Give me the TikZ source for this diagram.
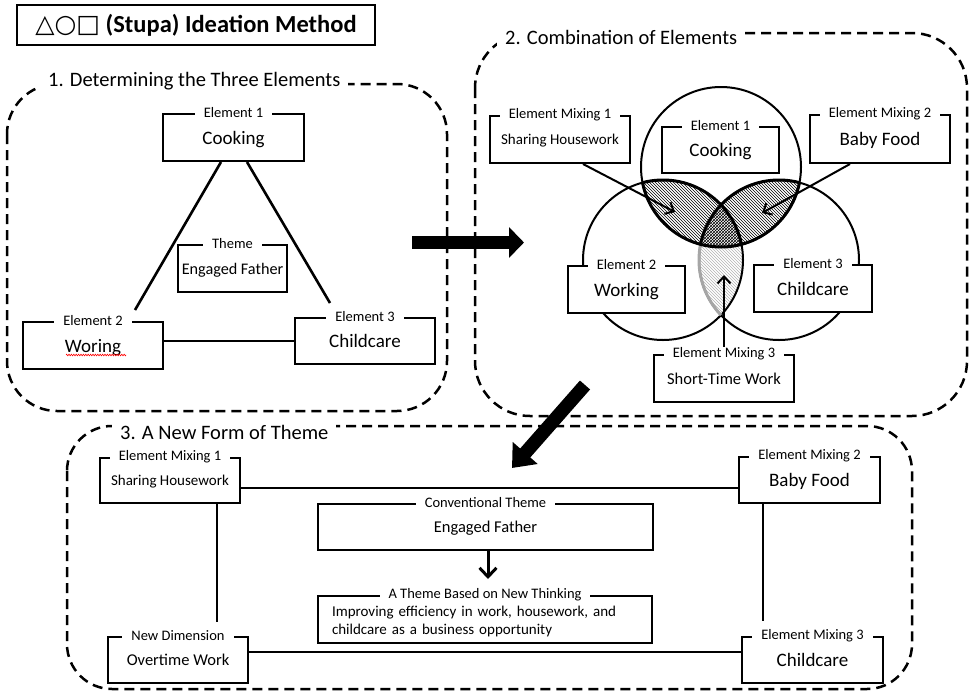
\documentclass[tikz,border=0pt]{standalone}
\usepackage{fontspec}
\setmainfont{Carlito}
\newfontfamily\symfont{DejaVu Sans}
\usetikzlibrary{arrows.meta,patterns,calc,decorations.pathmorphing}
\newcommand{\fsz}[1]{\fontsize{#1}{#1}\selectfont}
\newcommand{\mybox}[8]{%
  \node[box, minimum width=#4pt, minimum height=#5pt, font=\fsz{#6}] (#1) at (#2,#3) {#7};
  \node[lbl] (#1l) at (#1.north) {#8};}
\begin{document}
\begin{tikzpicture}[x=1pt,y=-1pt,
  box/.style={draw, line width=2pt, fill=white, inner sep=0pt, align=center, text depth=0pt},
  lbl/.style={fill=white, inner xsep=9pt, inner ysep=1pt, font=\fsz{14.5}},
  conn/.style={line width=2.6pt},
  panel/.style={draw, line width=2.5pt, dash pattern=on 10pt off 6pt},
  headtxt/.style={fill=white, inner ysep=2pt, inner xsep=8pt, font=\fsz{20.5}, anchor=west},
  bigarrow/.style={line width=13.5pt, -{Triangle[length=15pt,width=30pt]}},
  thinarrow/.style={line width=2pt, -{Straight Barb[length=7pt,width=13pt]}},
]
\useasboundingbox (0,0) rectangle (975,694);

% ---------- title ----------
\node[draw, line width=2.5pt, minimum width=358pt, minimum height=40pt, inner sep=0pt] (title) at (196,25)
  {\fsz{25}{\symfont △○□} \fsz{24.5}\textbf{(Stupa) Ideation Method}};

% ---------- panels ----------
\draw[panel, rounded corners=50pt] (7,84) rectangle (447,411);
\draw[panel, rounded corners=55pt] (475,33) rectangle (967,416);
\draw[panel, rounded corners=45pt] (67,426) rectangle (912,689);
\node[headtxt] (h1) at (40,81) {1. Determining the Three Elements\hspace{28pt}};
\node[headtxt] (h2) at (497,37) {2. Combination of Elements\hspace{6pt}};
\node[headtxt] (h3) at (112,432) {3. A New Form of Theme};

% ---------- panel 1 ----------
\coordinate (p1a) at (135,310);
\coordinate (p1b) at (330,303);
\mybox{p1e1}{233.5}{137.5}{141}{47}{19}{Cooking}{Element 1}
\mybox{p1th}{232.5}{268.5}{109}{47}{16.2}{Engaged Father}{Theme}
\mybox{p1e2}{93}{345.5}{140}{47}{19}{Woring}{Element 2}
\mybox{p1e3}{365}{341}{140}{46}{19}{Childcare}{Element 3}
\draw[conn] ([xshift=-12.5pt]p1e1.south) -- (p1a);
\draw[conn] ([xshift=13.5pt]p1e1.south) -- (p1b);
\draw[conn] (p1e3.west -| p1e2.east) -- (p1e3.west);
\draw[red, line width=0.6pt, decorate, decoration={zigzag, segment length=2.4pt, amplitude=0.8pt}] (66,355) -- (126,355);

% ---------- panel 2 : circles ----------
\coordinate (cT) at (721,167);
\coordinate (cL) at (663,260);
\coordinate (cR) at (779,260);
\begin{scope}
  \clip (cL) circle (80);
  \fill[pattern=north west lines, pattern color=gray!60] (cR) circle (80);
\end{scope}
\begin{scope}
  \clip (cT) circle (80);
  \fill[white] (cL) circle (80);
  \fill[pattern=north west lines] (cL) circle (80);
  \fill[white] (cR) circle (80);
  \fill[pattern=north west lines] (cR) circle (80);
  \clip (cL) circle (80);
  \fill[white] (cR) circle (80);
  \fill[pattern=crosshatch] (cR) circle (80);
\end{scope}
\draw[line width=2pt] (cT) circle (80) (cL) circle (80) (cR) circle (80);
\begin{scope}
  \clip (cL) circle (80);
  \draw[gray!70, line width=3pt] (cR) circle (80);
\end{scope}
\begin{scope}
  \clip (cT) circle (80);
  \draw[line width=3pt] (cL) circle (80) (cR) circle (80);
\end{scope}
\begin{scope}
  \clip (cL) circle (80) (cR) circle (80);
  \draw[line width=3pt] (cT) circle (80);
\end{scope}

% ---------- panel 2 : boxes ----------
\mybox{p2m1}{560}{139.5}{140}{47}{15}{Sharing Housework}{Element Mixing 1}
\mybox{p2e1}{720.5}{150}{117}{46}{19}{Cooking}{Element 1}
\mybox{p2m2}{880}{139}{140}{48}{19}{Baby Food}{Element Mixing 2}
\mybox{p2e2}{626.5}{289.5}{117}{47}{19}{Working}{Element 2}
\mybox{p2e3}{813}{288.5}{118}{47}{19}{Childcare}{Element 3}
\mybox{p2m3}{724}{378.5}{140}{47}{16.5}{Short-Time Work}{Element Mixing 3}
\coordinate (p2t1) at (675,212);
\coordinate (p2t2) at (762,213);
\coordinate (p2t3) at (724,275);
\draw[thinarrow] ([xshift=23pt]p2m1.south) -- (p2t1);
\draw[thinarrow] ([xshift=-30pt]p2m2.south) -- (p2t2);
\draw[thinarrow] (p2m3l.north) -- (p2t3);

% ---------- panel 3 ----------
\mybox{p3m1}{170}{480.5}{140}{45}{15}{Sharing Housework}{Element Mixing 1}
\mybox{p3m2}{809.5}{480}{141}{46}{19}{Baby Food}{Element Mixing 2}
\mybox{p3nd}{178}{660}{140}{46}{16.5}{Overtime Work}{New Dimension}
\mybox{p3m3}{812.5}{660}{141}{46}{19}{Childcare}{Element Mixing 3}
\mybox{p3ct}{485.5}{527}{335}{46}{16.5}{Engaged Father}{Conventional Theme}
\node[box, minimum width=334pt, minimum height=47pt, text width=306pt, align=left, text depth=16pt,
      font=\fontsize{15}{17.5}\selectfont] (p3nt) at (485,619.5)
  {Improving efficiency in work, housework, and\\childcare as a business opportunity};
\node[lbl] (p3ntl) at (p3nt.north) {A Theme Based on New Thinking};
\coordinate (p3v1) at (217,622);
\coordinate (p3v2) at (763,621);
\coordinate (p3dn) at (488,579);
\draw[conn] ([yshift=-7.5pt]p3m1.east) -- ([yshift=-7.5pt]p3m1.east -| p3m2.west);
\draw[conn] ([xshift=47pt]p3m1.south) -- (p3v1);
\draw[conn] ([xshift=-46.5pt]p3m2.south) -- (p3v2);
\draw[conn] ([yshift=8pt]p3nd.east) -- ([yshift=8pt]p3nd.east -| p3m3.west);
\draw[line width=3pt, -{Straight Barb[length=9pt,width=17pt]}] ([xshift=2.5pt]p3ct.south) -- (p3dn);

% ---------- big arrows ----------
\coordinate (ba1s) at (412,242.5);
\coordinate (ba1e) at (524,242.5);
\coordinate (ba2s) at (585,385);
\coordinate (ba2e) at (512,468);
\draw[bigarrow] (ba1s) -- (ba1e);
\draw[bigarrow, -{Triangle[length=20pt,width=32pt]}] (ba2s) -- (ba2e);
\end{tikzpicture}
\end{document}
